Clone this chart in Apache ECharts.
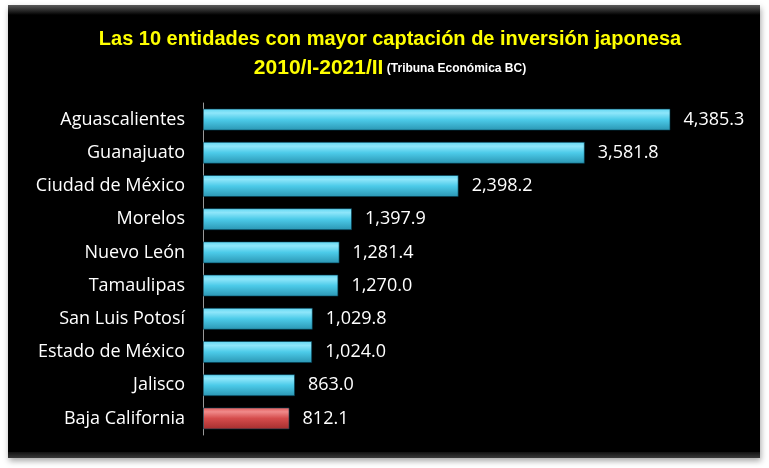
<!DOCTYPE html>
<html><head><meta charset="utf-8">
<script src="https://cdn.jsdelivr.net/npm/echarts@6/dist/echarts.min.js"></script>
<style>html,body{margin:0;padding:0;background:#fff;}#c{width:769px;height:468px;}</style>
</head><body><div id="c"></div>
<script>
const categories = ["Aguascalientes","Guanajuato","Ciudad de México","Morelos","Nuevo León","Tamaulipas","San Luis Potosí","Estado de México","Jalisco","Baja California"];
const values = [4385.3,3581.8,2398.2,1397.9,1281.4,1270.0,1029.8,1024.0,863.0,812.1];
const highlight = "Baja California";
const titleLine1 = "Las 10 entidades con mayor captación de inversión japonesa";
const titleLine2a = "2010/I-2021/II";
const titleLine2b = " (Tribuna Económica BC)";

const FONT = "'Liberation Sans Narrow','Liberation Sans',Arial,sans-serif";
const cyan = {type:'linear',x:0,y:0,x2:0,y2:1,colorStops:[{offset:0,color:'#5fd6f2'},{offset:0.2,color:'#8ee6fa'},{offset:0.5,color:'#4ccbe9'},{offset:1,color:'#2a95b2'}]};
const red = {type:'linear',x:0,y:0,x2:0,y2:1,colorStops:[{offset:0,color:'#e05a5a'},{offset:0.2,color:'#f08a8a'},{offset:0.5,color:'#d54c4c'},{offset:1,color:'#a32e2e'}]};

const chart = echarts.init(document.getElementById('c'));
chart.setOption({
  backgroundColor:'#ffffff',
  animation:false,
  graphic:[
    {type:'rect',shape:{x:8,y:5,width:752,height:453},style:{fill:'#000',shadowBlur:6,shadowColor:'rgba(0,0,0,0.35)',shadowOffsetX:1,shadowOffsetY:3},z:-10},
    {type:'rect',shape:{x:8,y:5,width:752,height:10},style:{fill:{type:'linear',x:0,y:0,x2:0,y2:1,colorStops:[{offset:0,color:'#5a5a5a'},{offset:1,color:'#000'}]}},z:-9},
    {type:'rect',shape:{x:8,y:452,width:752,height:6},style:{fill:{type:'linear',x:0,y:0,x2:0,y2:1,colorStops:[{offset:0,color:'#111'},{offset:1,color:'#3a3a3a'}]}},z:-9}
  ],
  title:{
    text: titleLine1 + "\n{a|" + titleLine2a + "}{b|" + titleLine2b + "}",
    left:385, top:20, textAlign:'center',
    textStyle:{color:'#ffff00',fontFamily:FONT,fontWeight:'bold',fontSize:20,lineHeight:29,
      rich:{a:{color:'#ffff00',fontFamily:FONT,fontWeight:'bold',fontSize:21,lineHeight:29},b:{color:'#ffffff',fontFamily:FONT,fontWeight:'bold',fontSize:12,lineHeight:29}}}
  },
  grid:{left:203,right:33,top:103,bottom:33,containLabel:false},
  xAxis:{type:'value',min:0,max:5000,show:false},
  yAxis:{type:'category',data:categories,inverse:true,
    axisLine:{show:true,lineStyle:{color:'#999',width:1}},axisTick:{show:false},
    axisLabel:{color:'#fff',fontFamily:'Open Sans, sans-serif',fontSize:18,margin:18}},
  series:[{type:'bar',barWidth:22,
    data: values.map((v,i)=>({value:v,itemStyle:{color: categories[i]===highlight?red:cyan}})),
    itemStyle:{borderColor:'rgba(0,60,80,0.6)',borderWidth:1},
    label:{show:true,position:'right',distance:13,color:'#fff',fontFamily:'Open Sans, sans-serif',fontSize:18,
      formatter:p=>p.value.toLocaleString('en-US',{minimumFractionDigits:1,maximumFractionDigits:1})}
  }]
});
</script></body></html>
